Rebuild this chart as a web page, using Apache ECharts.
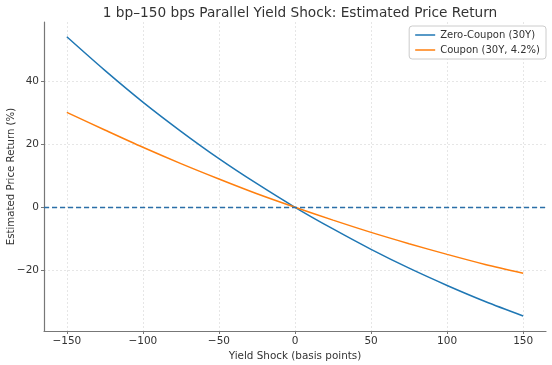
<!DOCTYPE html>
<html>
<head>
<meta charset="utf-8">
<script src="https://cdn.jsdelivr.net/npm/echarts@6/dist/echarts.min.js"></script>
<style>html,body{margin:0;padding:0;background:#fff;}#c{width:552px;height:365px;}</style>
</head>
<body>
<div id="c"></div>
<script>
const shocks = [-150, -125, -100, -75, -50, -25, 0, 25, 50, 75, 100, 125, 150];
const zeroCoupon = [54.3, 43.6, 33.5, 24.2, 15.5, 7.5, 0, -6.9, -13.4, -19.4, -24.9, -30.0, -34.6];
const coupon = [30.2, 24.6, 19.1, 13.9, 9.0, 4.3, 0, -4.1, -8.0, -11.6, -15.0, -18.2, -21.0];
const xTicks = [-150, -100, -50, 0, 50, 100, 150];
const yTicks = [-20, 0, 20, 40];

const font = 'DejaVu Sans';
const chart = echarts.init(document.getElementById('c'), null, {renderer: 'canvas'});
chart.setOption({
  animation: false,
  backgroundColor: '#fff',
  textStyle: {fontFamily: font},
  title: {
    text: '1 bp\u2013150 bps Parallel Yield Shock: Estimated Price Return',
    left: 295, top: 1, textAlign: 'center',
    textStyle: {fontFamily: font, fontSize: 13.7, fontWeight: 'normal', color: '#333'}
  },
  grid: {left: 44, right: 6, top: 22, bottom: 34, outerBoundsMode: 'none', containLabel: false},
  legend: {
    right: 6, top: 26, orient: 'vertical',
    backgroundColor: '#fff', borderColor: '#ccc', borderWidth: 1, borderRadius: 3,
    padding: [4, 6, 4, 6], itemGap: 5,
    icon: 'rect', itemWidth: 20, itemHeight: 1.5,
    textStyle: {fontFamily: font, fontSize: 10, color: '#333'},
    data: ['Zero-Coupon (30Y)', 'Coupon (30Y, 4.2%)']
  },
  xAxis: {
    type: 'value', min: -165, max: 165,
    name: 'Yield Shock (basis points)', nameLocation: 'middle', nameGap: 20, nameMoveOverlap: false,
    nameTextStyle: {fontFamily: font, fontSize: 10.4, color: '#333'},
    axisLine: {onZero: false, lineStyle: {color: '#777', width: 1.2}},
    axisTick: {show: true, length: 3, customValues: xTicks, lineStyle: {color: '#777'}},
    axisLabel: {customValues: xTicks, fontFamily: font, fontSize: 10.5, color: '#333', margin: 5,
      formatter: v => (v < 0 ? '\u2212' + Math.abs(v) : '' + v)},
    splitLine: {show: true, lineStyle: {color: '#e0e0e0', type: [2, 2], width: 0.8}}
  },
  yAxis: {
    type: 'value', min: -39.4, max: 59.0,
    name: 'Estimated Price Return (%)', nameLocation: 'middle', nameGap: 28, nameRotate: 90, nameMoveOverlap: false,
    nameTextStyle: {fontFamily: font, fontSize: 10.2, color: '#333'},
    axisLine: {show: true, onZero: false, lineStyle: {color: '#777', width: 1.2}},
    axisTick: {show: true, length: 3, customValues: yTicks, lineStyle: {color: '#777'}},
    axisLabel: {customValues: yTicks, fontFamily: font, fontSize: 10.5, color: '#333', margin: 5,
      formatter: v => (v < 0 ? '\u2212' + Math.abs(v) : '' + v)},
    splitLine: {show: true, lineStyle: {color: '#e0e0e0', type: [2, 2], width: 0.8}}
  },
  series: [
    {
      name: 'Zero-Coupon (30Y)', type: 'line', smooth: 0.3, showSymbol: false,
      data: shocks.map((x, i) => [x, zeroCoupon[i]]),
      lineStyle: {color: '#1f77b4', width: 1.5}, itemStyle: {color: '#1f77b4'}, z: 3
    },
    {
      name: 'Coupon (30Y, 4.2%)', type: 'line', smooth: 0.3, showSymbol: false,
      data: shocks.map((x, i) => [x, coupon[i]]),
      lineStyle: {color: '#ff7f0e', width: 1.5}, itemStyle: {color: '#ff7f0e'}, z: 3
    },
    {
      name: 'zero-line', type: 'line', data: [], z: 4,
      markLine: {
        silent: true, symbol: 'none', label: {show: false},
        itemStyle: {color: '#2b6fa8'},
        lineStyle: {color: '#2b6fa8', type: [5, 3], width: 1.3, opacity: 1},
        emphasis: {disabled: true},
        data: [{yAxis: 0}]
      }
    }
  ]
});
</script>
</body>
</html>
